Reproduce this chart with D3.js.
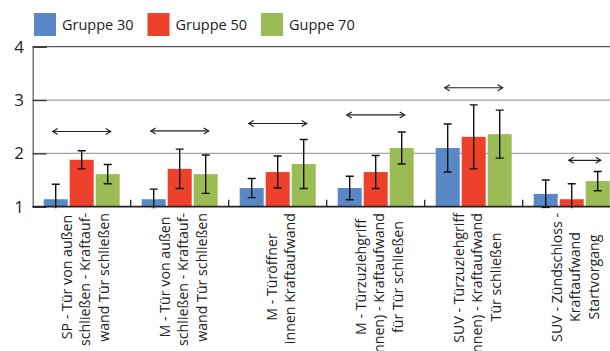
<!DOCTYPE html>
<html>
<head>
<meta charset="utf-8">
<script src="https://cdn.jsdelivr.net/npm/d3@7"></script>
<style>
  body { margin: 0; background: #fff; }
  svg { display: block; font-family: "Open Sans", sans-serif; }
</style>
</head>
<body>
<div id="chart"></div>
<script>
// data
var categoryLines = [
  ["SP - Tür von außen", "schließen - Kraftauf-", "wand Tür schließen"],
  ["M - Tür von außen", "schließen - Kraftauf-", "wand Tür schließen"],
  ["M - Türöffner", "innen Kraftaufwand"],
  ["M - Türzuziehgriff", "(innen) - Kraftaufwand", "für Tür schließen"],
  ["SUV - Türzuziehgriff", "(innen) - Kraftaufwand", "Tür schließen"],
  ["SUV - Zündschloss -", "Kraftaufwand", "Startvorgang"]
]
var seriesNames = ["Gruppe 30", "Gruppe 50", "Guppe 70"]
var means30 = [1.14, 1.14, 1.35, 1.35, 2.10, 1.24]
var means50 = [1.88, 1.71, 1.65, 1.65, 2.31, 1.14]
var means70 = [1.61, 1.61, 1.80, 2.10, 2.36, 1.48]
var err30 = [0.28, 0.19, 0.18, 0.22, 0.45, 0.26]
var err50 = [0.17, 0.37, 0.30, 0.31, 0.60, 0.29]
var err70 = [0.18, 0.36, 0.46, 0.30, 0.45, 0.18]
// significance arrows: from series index to series index at a level
var sigFrom = [0, 0, 0, 0, 0, 1]
var sigTo = [2, 2, 2, 2, 2, 2]
var sigLevel = [2.41, 2.42, 2.56, 2.72, 3.23, 1.87]
var yTicks = [1, 2, 3, 4]

var colors = ["#5a87c5", "#ee412b", "#9bbb54"]
var W = 610, H = 351
var pLeft = 32.7, pRight = 620.7, pTop = 46.7, pBottom = 206.7
var labelMid = 277, labelTop = 213

var means = [means30, means50, means70]
var errs = [err30, err50, err70]
var catIdx = d3.range(categoryLines.length)

var x = d3.scaleBand().domain(catIdx).range([pLeft, pRight])
var xs = d3.scaleBand().domain([0, 1, 2]).range([0, x.bandwidth()])
  .paddingInner(2 / 26).paddingOuter(0.423)
var y = d3.scaleLinear().domain([1, 4]).range([pBottom, pTop])

var svg = d3.select('#chart').append('svg')
  .attr('width', W)
  .attr('height', H)

var defs = svg.append('defs')
defs.append('clipPath').attr('id', 'plot')
  .append('rect')
  .attr('x', 0).attr('y', 0)
  .attr('width', W).attr('height', pBottom + 1.5)

// gridlines
svg.append('g').selectAll('line')
  .data(yTicks.filter(function(t) { return t > 1 }))
  .join('line')
  .attr('x1', pLeft).attr('x2', W)
  .attr('y1', function(d) { return y(d) }).attr('y2', function(d) { return y(d) })
  .attr('stroke', function(d) { return d === 4 ? '#555' : '#a3a3a3' })
  .attr('stroke-width', 1.3)

// y axis with inward ticks
var yAxis = svg.append('g')
  .attr('transform', 'translate(' + pLeft + ',0)')
  .call(d3.axisRight(y).tickValues(yTicks).tickSize(14).tickFormat(''))
yAxis.select('.domain').attr('stroke', '#555').attr('stroke-width', 1.2)
yAxis.selectAll('.tick line').attr('stroke', '#333').attr('stroke-width', 1.3)

svg.append('g').selectAll('text')
  .data(yTicks)
  .join('text')
  .attr('x', 19)
  .attr('y', function(d) { return y(d) + 6 })
  .attr('text-anchor', 'middle')
  .attr('font-size', 17)
  .attr('fill', '#222')
  .text(function(d) { return d })

// bars
var groups = svg.append('g').selectAll('g')
  .data(catIdx)
  .join('g')
  .attr('transform', function(i) { return 'translate(' + x(i) + ',0)' })

function rowsOf(i) {
  return [0, 1, 2].map(function(s) { return {s: s, v: means[s][i], e: errs[s][i]} })
}

groups.selectAll('rect')
  .data(rowsOf)
  .join('rect')
  .attr('x', function(d) { return xs(d.s) })
  .attr('width', xs.bandwidth())
  .attr('y', function(d) { return y(d.v) })
  .attr('height', function(d) { return y(1) - y(d.v) })
  .attr('fill', function(d) { return colors[d.s] })

// error bars
var eb = groups.append('g').attr('clip-path', 'url(#plot)')
  .selectAll('g')
  .data(rowsOf)
  .join('g')
  .attr('stroke', '#111')
  .attr('stroke-width', 1.4)
eb.append('line')
  .attr('x1', function(d) { return xs(d.s) + xs.bandwidth() / 2 })
  .attr('x2', function(d) { return xs(d.s) + xs.bandwidth() / 2 })
  .attr('y1', function(d) { return y(d.v + d.e) })
  .attr('y2', function(d) { return y(d.v - d.e) })
eb.selectAll('.cap')
  .data(function(d) { return [d.v + d.e, d.v - d.e].map(function(v) { return {s: d.s, v: v} }) })
  .join('line')
  .attr('class', 'cap')
  .attr('x1', function(d) { return xs(d.s) + xs.bandwidth() / 2 - 4 })
  .attr('x2', function(d) { return xs(d.s) + xs.bandwidth() / 2 + 4 })
  .attr('y1', function(d) { return y(d.v) })
  .attr('y2', function(d) { return y(d.v) })

// x axis and group separators
svg.append('line')
  .attr('x1', pLeft).attr('x2', W)
  .attr('y1', pBottom).attr('y2', pBottom)
  .attr('stroke', '#222').attr('stroke-width', 1.8)
svg.append('g').selectAll('line')
  .data(catIdx.slice(1))
  .join('line')
  .attr('x1', function(i) { return x(i) }).attr('x2', function(i) { return x(i) })
  .attr('y1', pBottom).attr('y2', pBottom - 7)
  .attr('stroke', '#222').attr('stroke-width', 1.3)

// category labels, rotated; long lines start right under the axis
var labels = svg.append('g').selectAll('g')
  .data(catIdx)
  .join('g')
labels.selectAll('text')
  .data(function(i) {
    var lines = categoryLines[i]
    return lines.map(function(t, k) {
      return {t: t, cx: x(i) + x.bandwidth() / 2 + 8.5 + (k - (lines.length - 1) / 2) * 18.5}
    })
  })
  .join('text')
  .attr('text-anchor', 'middle')
  .attr('font-size', 14.2)
  .attr('fill', '#222')
  .text(function(d) { return d.t })
  .attr('transform', function(d) {
    var len = this.getComputedTextLength()
    var cy = Math.max(labelMid, labelTop + len / 2)
    return 'translate(' + d.cx + ',' + cy + ') rotate(-90)'
  })

// significance arrows
defs.append('marker').attr('id', 'arrEnd')
  .attr('viewBox', '-7 -4 8 8').attr('markerWidth', 8).attr('markerHeight', 8)
  .attr('markerUnits', 'userSpaceOnUse').attr('orient', 'auto-start-reverse')
  .append('path').attr('d', 'M-5,-3L0,0L-5,3')
  .attr('fill', 'none').attr('stroke', '#222').attr('stroke-width', 1.2)

svg.append('g').selectAll('line')
  .data(catIdx)
  .join('line')
  .attr('x1', function(i) { return x(i) + xs(sigFrom[i]) + xs.bandwidth() / 2 - 3 })
  .attr('x2', function(i) { return x(i) + xs(sigTo[i]) + xs.bandwidth() / 2 + 3 })
  .attr('y1', function(i) { return y(sigLevel[i]) })
  .attr('y2', function(i) { return y(sigLevel[i]) })
  .attr('stroke', '#222').attr('stroke-width', 1.2)
  .attr('marker-start', 'url(#arrEnd)')
  .attr('marker-end', 'url(#arrEnd)')

// legend
var legend = svg.append('g').selectAll('g')
  .data(seriesNames)
  .join('g')
  .attr('transform', function(d, i) { return 'translate(' + (34 + i * 113.5) + ',13)' })
legend.append('rect')
  .attr('width', 22).attr('height', 23)
  .attr('fill', function(d, i) { return colors[i] })
legend.append('text')
  .attr('x', 28).attr('y', 16.5)
  .attr('font-size', 14.5)
  .attr('fill', '#222')
  .text(function(d) { return d })
</script>
</body>
</html>
